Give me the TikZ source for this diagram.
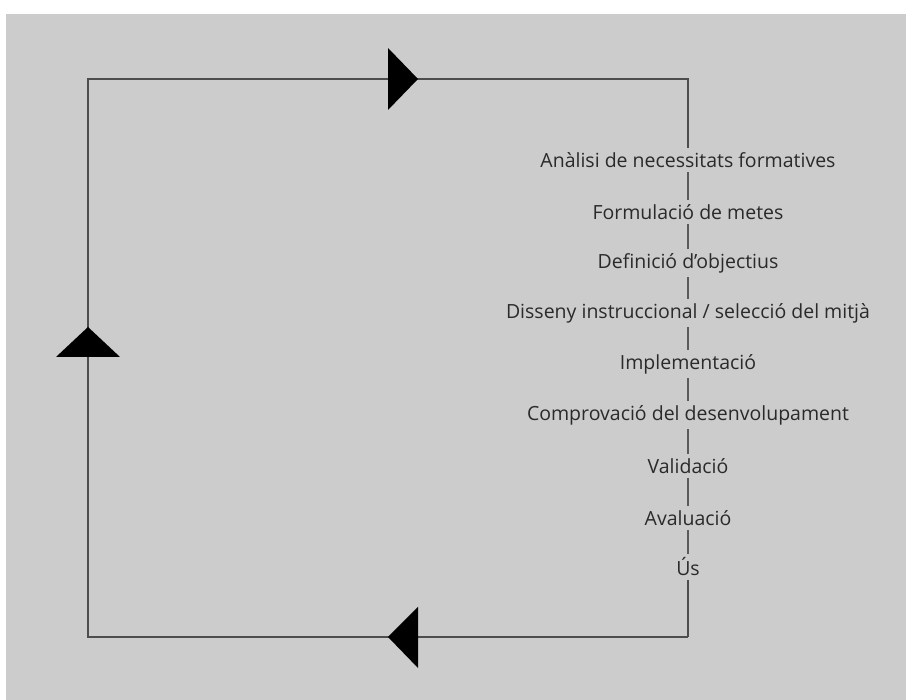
\documentclass[tikz,border=0pt]{standalone}
\usepackage{fontspec}
\setmainfont{Open Sans}
\definecolor{bg}{HTML}{CCCCCC}
\definecolor{ln}{HTML}{4D4D4D}
\definecolor{lk}{HTML}{5A5A5A}
\definecolor{tx}{HTML}{2A2A2A}
\begin{document}
\begin{tikzpicture}[x=1pt,y=1pt,
  stage/.style={text=tx,font=\fontsize{19.5}{21}\selectfont,inner sep=4pt,anchor=center},
  loop/.style={draw=ln,line width=2pt},
  link/.style={draw=lk,line width=1.5pt}]
  % page and backdrop
  \fill[white] (0,0) rectangle (906,700);
  \fill[bg] (6,0) rectangle (906,686);
  \useasboundingbox (0,0) rectangle (906,700);
  % corners of the cycle
  \coordinate (tl) at (88,621);
  \coordinate (tr) at (688,621);
  \coordinate (br) at (688,63);
  \coordinate (bl) at (88,63);
  % stages
  \node[stage] (s1) at (688,540) {Anàlisi de necessitats formatives};
  \node[stage] (s2) at (688,488) {Formulació de metes};
  \node[stage] (s3) at (688,437) {Definició d'objectius};
  \node[stage] (s4) at (688,387) {Disseny instruccional / selecció del mitjà};
  \node[stage] (s5) at (688,336) {Implementació};
  \node[stage] (s6) at (688,285) {Comprovació del desenvolupament};
  \node[stage] (s7) at (688,234) {Validació};
  \node[stage] (s8) at (688,182) {Avaluació};
  \node[stage] (s9) at (688,133) {Ús};
  % outer loop
  \draw[loop,line join=miter] (br) -- (bl) -- (tl) -- (tr) -- (s1);
  \draw[loop] (s9) -- (br);
  % links between stages
  \foreach \a/\b in {s1/s2,s2/s3,s3/s4,s4/s5,s5/s6,s6/s7,s7/s8,s8/s9}
    \draw[link] (\a) -- (\b);
  % direction marks
  \fill[black] (418,621) -- (388,652) -- (388,590) -- cycle;
  \fill[black] (88,373) -- (56,343) -- (120,343) -- cycle;
  \fill[black] (388,63) -- (418,93) -- (418,32) -- cycle;
\end{tikzpicture}
\end{document}
